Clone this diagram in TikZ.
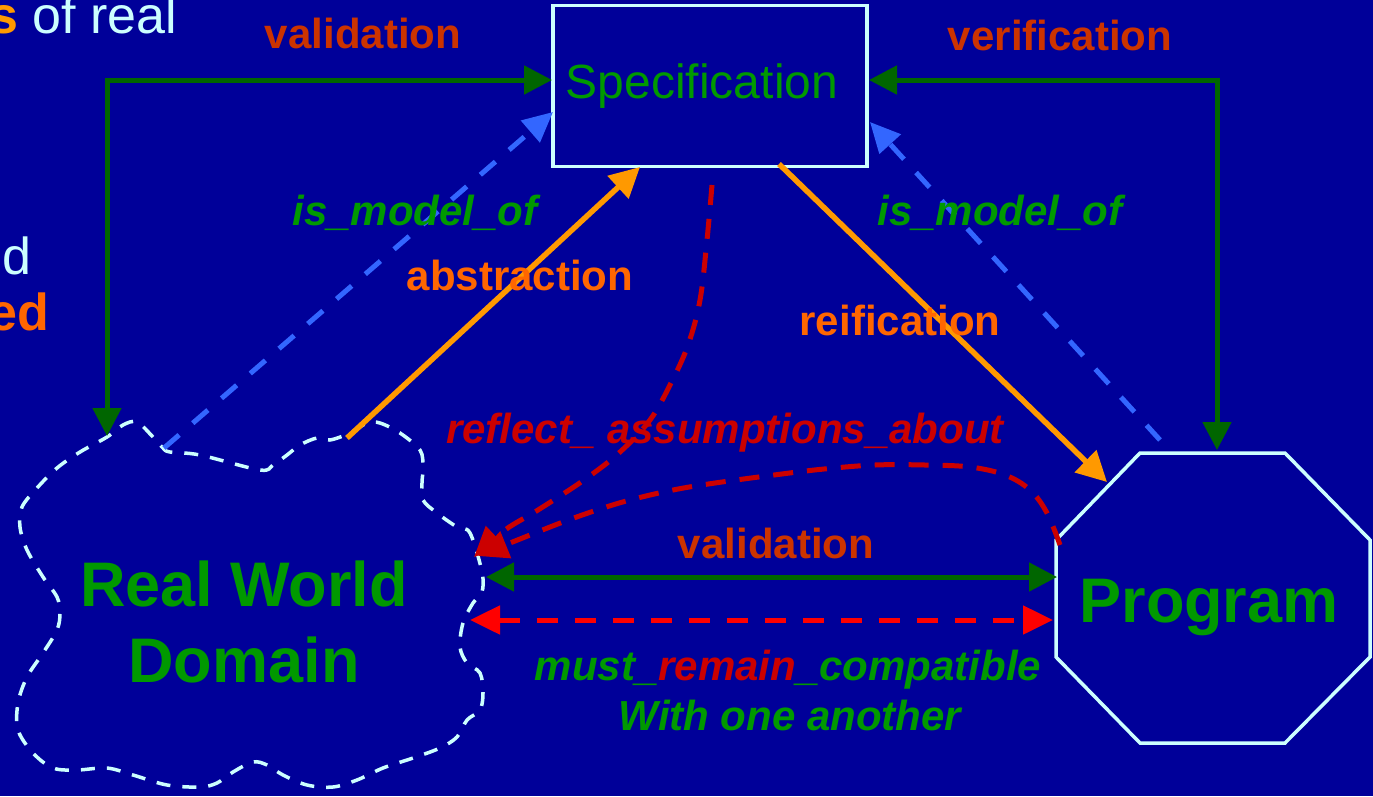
\documentclass[tikz,border=0pt]{standalone}
\usepackage{fontspec}
\setmainfont{Liberation Sans}
\usetikzlibrary{arrows.meta}
\definecolor{bgblue}{HTML}{000099}
\definecolor{lcyan}{HTML}{CCFFFF}
\definecolor{dgreen}{HTML}{006600}
\definecolor{tgreen}{HTML}{009900}
\definecolor{lorange}{HTML}{FF9900}
\definecolor{torange}{HTML}{FF6600}
\definecolor{tbrick}{HTML}{CC3300}
\definecolor{dred}{HTML}{CC0000}
\definecolor{bred}{HTML}{FF0000}
\definecolor{lblue}{HTML}{3366FF}
\tikzset{
  txt/.style={inner sep=0pt, outer sep=0pt, anchor=base},
  lbl/.style={txt, font=\fontsize{42}{48}\selectfont\bfseries},
  ilbl/.style={txt, font=\fontsize{42}{48}\selectfont\bfseries\itshape},
  bigtxt/.style={txt, font=\fontsize{63}{76}\selectfont\bfseries, text=tgreen},
  boxline/.style={draw=lcyan, line width=3.5pt},
  cloudline/.style={draw=lcyan, line width=3.5pt, dash pattern=on 14pt off 12pt},
  greenconn/.style={draw=dgreen, line width=5pt, {Triangle[length=28pt,width=28pt]}-{Triangle[length=28pt,width=28pt]}},
  orangeconn/.style={draw=lorange, line width=5.5pt, -{Triangle[length=30pt,width=30pt]}},
  blueconn/.style={draw=lblue, line width=5pt, dash pattern=on 20pt off 18pt, -{Triangle[length=30pt,width=28pt]}, fill=none},
  redconn/.style={draw=dred, line width=5pt, dash pattern=on 20pt off 14pt, -{Triangle[length=30pt,width=28pt]}},
  compconn/.style={draw=bred, line width=5pt, dash pattern=on 21pt off 17pt, {Triangle[length=30pt,width=28pt]}-{Triangle[length=30pt,width=28pt]}}
}
\begin{document}
\begin{tikzpicture}[x=1pt,y=-1pt]
\useasboundingbox (0,0) rectangle (1373,796);
\fill[bgblue] (0,0) rectangle (1373,796);

% partial slide text at left
\node[txt, anchor=base east, font=\fontsize{52}{60}\selectfont, text=lcyan] (t1) at (177,33) {\textcolor{lorange}{\bfseries s} of real};
\node[txt, anchor=base east, font=\fontsize{52}{60}\selectfont, text=lcyan] (t2) at (31,274) {d};
\node[txt, anchor=base east, font=\fontsize{52}{60}\selectfont\bfseries, text=torange] (t3) at (49,330) {ed};

% cloud (Real World Domain)
\draw[cloudline] plot[smooth cycle, tension=0.55] coordinates {
(163,448) (153,437) (137,422) (123,425) (107,437) (80,452) (57,468) (37,488) (22,507) (20,527)
(27,550) (43,577) (57,597) (60,613) (57,630) (43,653) (27,677) (18,703) (18,730) (33,753)
(53,768) (77,770) (107,768) (133,775) (167,785) (200,787) (217,783) (233,772) (253,762) (267,765)
(283,775) (307,785) (333,787) (357,780) (383,768) (413,758) (440,748) (457,737) (467,720) (480,710)
(483,693) (480,673) (467,663) (460,647) (463,623) (473,603) (482,592) (482,572) (470,533) (457,527)
(437,513) (423,500) (422,483) (423,467) (420,450) (400,433) (380,423) (367,423) (350,433) (330,440)
(317,438) (300,445) (287,455) (273,465) (260,470) (200,455) (170,452)};
\node[bigtxt] (rwd) at (244,606) {Real World};
\node[bigtxt] (rwd2) at (244,682) {Domain};

% specification box
\node[boxline, minimum width=314pt, minimum height=161pt, inner sep=0pt] (spec) at (710,86) {};
\node[txt, font=\fontsize{48}{56}\selectfont, text=tgreen] (spectxt) at (702,98) {Specification};

% program octagon
\draw[boxline] (1140,453) -- (1285,453) -- (1370,540) -- (1370,657) -- (1285,743) -- (1140,743) -- (1056,657) -- (1056,540) -- cycle;
\node[txt, font=\fontsize{63}{76}\selectfont\bfseries, text=tgreen] (prog) at (1209,622) {Program};

% connector endpoints
\coordinate (cloudTopL) at (107,436);
\coordinate (specWv) at (552,80);
\coordinate (specEv) at (869,80);
\coordinate (progTop) at (1217,450);
\coordinate (cloudAbs) at (347,438);
\coordinate (specAbs) at (640,167);
\coordinate (specRei) at (779,164);
\coordinate (progRei) at (1107,482);
\coordinate (cloudMod) at (164,448);
\coordinate (specModL) at (553,112);
\coordinate (progMod) at (1160,440);
\coordinate (specModR) at (870,122);
\coordinate (cloudVal) at (486,577);
\coordinate (progVal) at (1057,577);
\coordinate (cloudComp) at (470,620);
\coordinate (progComp) at (1053,620);

% validation / verification elbows
\draw[greenconn] (cloudTopL) |- (specWv);
\draw[greenconn] (specEv) -| (progTop);
\node[lbl, text=tbrick] (lval1) at (363,48) {validation};
\node[lbl, text=tbrick] (lver) at (1060,50) {verification};

% is_model_of
\draw[blueconn] (cloudMod) -- (specModL);
\draw[blueconn] (progMod) -- (specModR);
\node[ilbl, text=tgreen] (lmod1) at (415,225) {is\_model\_of};
\node[ilbl, text=tgreen] (lmod2) at (1000,225) {is\_model\_of};

% abstraction / reification
\draw[orangeconn] (cloudAbs) -- (specAbs);
\draw[orangeconn] (specRei) -- (progRei);
\node[lbl, text=torange] (labs) at (520,290) {abstraction};
\node[lbl, text=torange] (lrei) at (900,335) {reification};

% reflect assumptions about
\draw[redconn] plot[smooth, tension=0.6] coordinates {(712,185) (707,240) (700,300) (688,345) (671,383) (650,420) (620,452) (584,480) (538,510) (505,530) (474,557)};
\draw[redconn] plot[smooth, tension=0.6] coordinates {(1060,545) (1047,513) (1030,490) (1005,475) (970,467) (925,465) (875,465) (824,469) (774,475) (715,483) (673,490) (630,500) (597,510) (563,522) (525,537) (478,556)};
\node[ilbl, text=dred] (lref) at (725,443) {reflect\_ assumptions\_about};

% bottom validation and compatibility
\draw[greenconn] (cloudVal) -- (progVal);
\node[lbl, text=tbrick] (lval2) at (776,558) {validation};
\draw[compconn] (cloudComp) -- (progComp);
\node[ilbl, text=tgreen] (lcomp1) at (788,680) {must\_\textcolor{dred}{remain}\_compatible};
\node[ilbl, text=tgreen] (lcomp2) at (790,730) {With one another};
\end{tikzpicture}
\end{document}
